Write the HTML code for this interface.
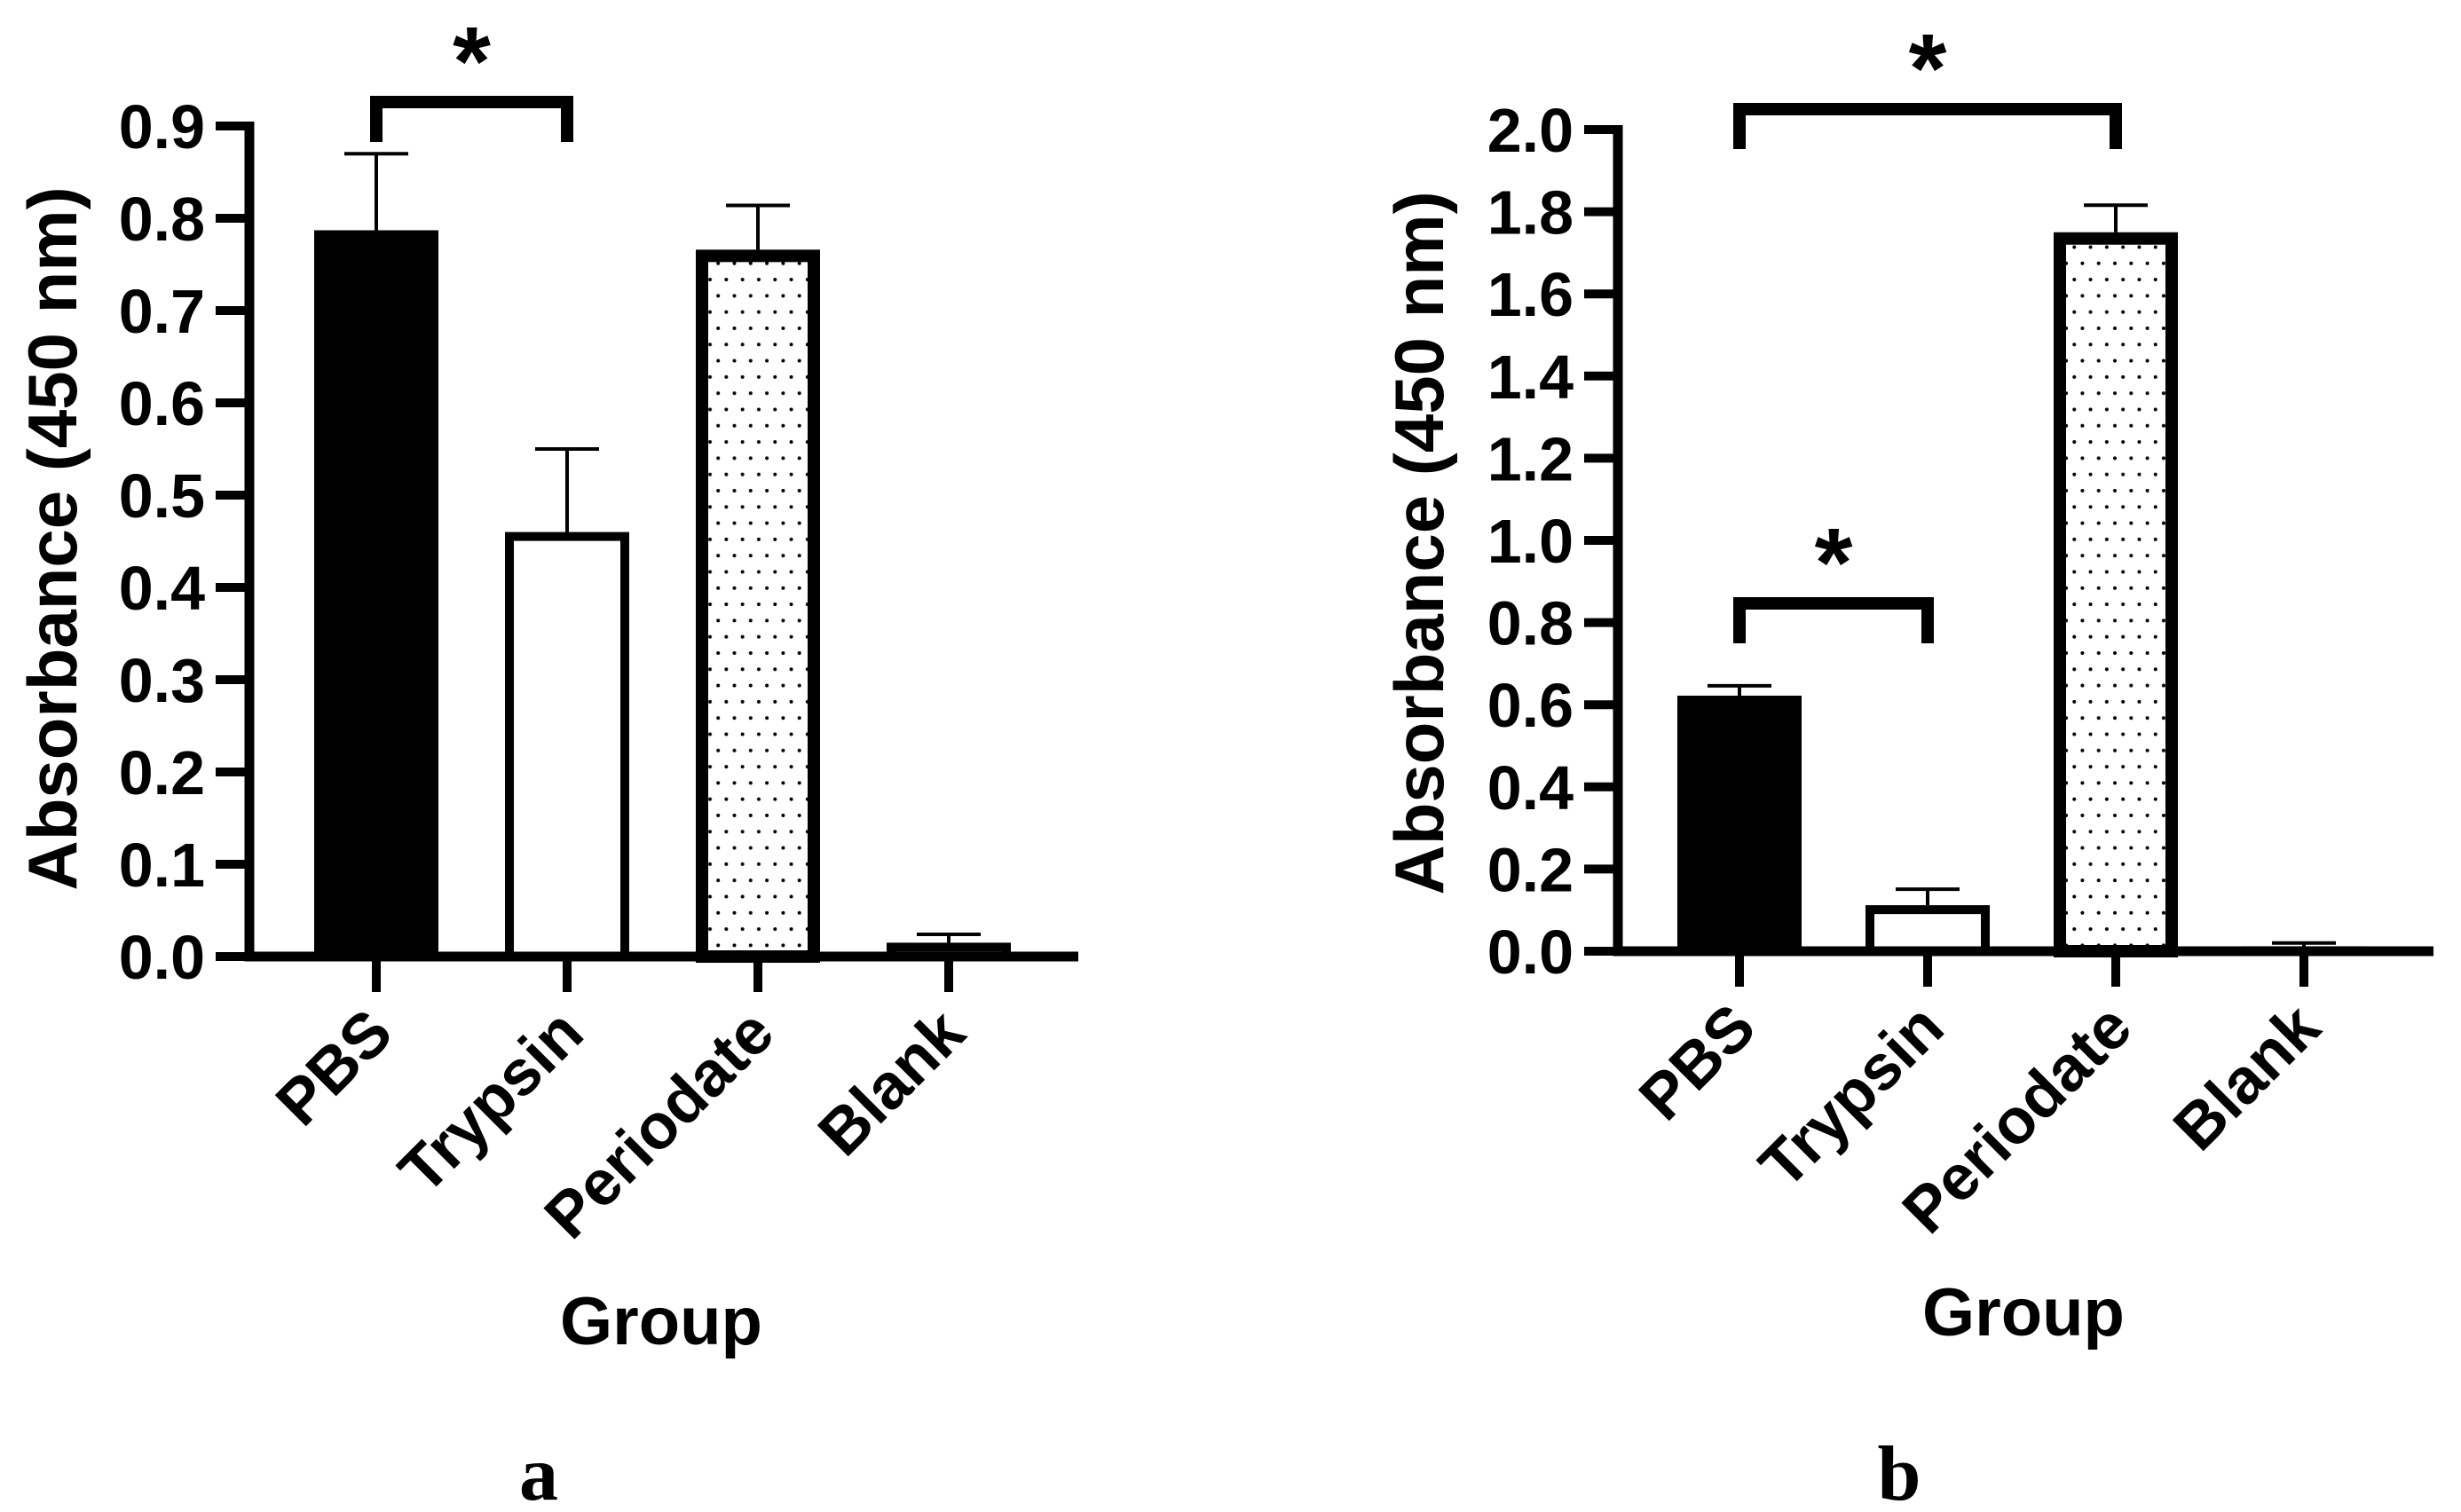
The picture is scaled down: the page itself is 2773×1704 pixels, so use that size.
<!DOCTYPE html>
<html><head><meta charset="utf-8"><style>
html,body{margin:0;padding:0;background:#fff;}
svg{display:block;}
text{font-family:"Liberation Sans",Arial,sans-serif;font-weight:bold;fill:#000;}
</style></head><body>
<svg id="fig" width="2773" height="1704" viewBox="0 0 2773 1704" xmlns="http://www.w3.org/2000/svg">
<defs>
<pattern id="dots" patternUnits="userSpaceOnUse" width="18.3" height="36.6">
<circle cx="4" cy="4" r="2" fill="#000"/>
<circle cx="13.15" cy="22.3" r="2" fill="#000"/>
</pattern>
</defs>
<g id="pa"></g>
<g id="pb"></g>
</svg>
<script>
const categories = ["PBS","Trypsin","Periodate","Blank"];
const valuesA = [0.787, 0.46, 0.766, 0.015];
const errorsA = [0.870, 0.55, 0.814, 0.024];
const ticksA = ["0.0","0.1","0.2","0.3","0.4","0.5","0.6","0.7","0.8","0.9"];
const tickValsA = [0,0.1,0.2,0.3,0.4,0.5,0.6,0.7,0.8,0.9];
const valuesB = [0.622, 0.112, 1.75, 0.012];
const errorsB = [0.646, 0.151, 1.816, 0.02];
const ticksB = ["0.0","0.2","0.4","0.6","0.8","1.0","1.2","1.4","1.6","1.8","2.0"];
const tickValsB = [0,0.2,0.4,0.6,0.8,1.0,1.2,1.4,1.6,1.8,2.0];
const sigA = [[0,1]];
const sigB = [[0,2],[0,1]];

const NS="http://www.w3.org/2000/svg";
function mk(parent,tag,attrs,txt){const e=document.createElementNS(NS,tag);for(const k in attrs)e.setAttribute(k,attrs[k]);if(txt!==undefined)e.textContent=txt;parent.appendChild(e);return e;}

function panel(g,cfg){
  const y=v=>cfg.y0-(v-cfg.vmin)/(cfg.vmax-cfg.vmin)*(cfg.y0-cfg.ytop);
  const x=i=>cfg.cx0+i*cfg.dx;
  const bw=140, sw=[0,10,14,10];
  cfg.values.forEach((v,i)=>{
    const top=y(v), L=x(i)-bw/2;
    if(i===0){
      const r=mk(g,'rect',{x:L,y:top,width:bw,height:cfg.y0-top,fill:'#000'});
      
      
    } else {
      const s=sw[i], h=Math.max(cfg.y0-top-s/2,1);
      const r=mk(g,'rect',{x:L+s/2,y:top+s/2,width:bw-s,height:h,fill:i===2?'url(#dots)':'#fff',stroke:'#000','stroke-width':s});
      
      
    }
    const e=y(cfg.errors[i]);
    const eb=mk(g,'path',{d:`M${x(i)} ${top} V${e} M${x(i)-36} ${e} H${x(i)+36}`,stroke:'#000','stroke-width':4,fill:'none'});
    
    
  });
  const ax=mk(g,'path',{d:`M${cfg.ax} ${cfg.ytop-5} V${cfg.y0} H${cfg.xend}`,stroke:'#000','stroke-width':11,fill:'none'});
  
  
  cfg.tickVals.forEach((v,k)=>{
    const t=mk(g,'line',{x1:cfg.ax-38,x2:cfg.ax,y1:y(v),y2:y(v),stroke:'#000','stroke-width':10});
    
    
    const l=mk(g,'text',{x:cfg.ax-50,y:y(v)+25,'text-anchor':'end','font-size':70},cfg.ticks[k]);
    
    
  });
  categories.forEach((c,i)=>{
    const t=mk(g,'line',{x1:x(i),x2:x(i),y1:cfg.y0,y2:cfg.y0+40,stroke:'#000','stroke-width':10});
    
    
    const lx=x(i)+22, ly=cfg.y0+90;
    const l=mk(g,'text',{x:lx,y:ly,'text-anchor':'end','font-size':72,transform:`rotate(-45 ${lx} ${ly})`},c);
    
    
  });
  const yt=mk(g,'text',{x:cfg.ytx,y:cfg.ytc,'text-anchor':'middle','font-size':78,transform:`rotate(-90 ${cfg.ytx} ${cfg.ytc})`},'Absorbance (450 nm)');
  
  
  const xt=mk(g,'text',{x:cfg.gx,y:cfg.gy,'text-anchor':'middle','font-size':76},'Group');
  
  
  const pl=mk(g,'text',{x:cfg.lx,y:1690,'text-anchor':'middle','font-size':88,style:'font-family:"Liberation Serif",serif'},cfg.letter);
  
  
  cfg.sig.forEach((p,k)=>{
    const yy=cfg.sigY[k], x1=x(p[0]), x2=x(p[1]);
    const br=mk(g,'path',{d:`M${x1} ${yy+45} V${yy} H${x2} V${yy+45}`,stroke:'#000','stroke-width':14,fill:'none'});
    
    
    const st=mk(g,'text',{x:(x1+x2)/2,y:yy-8,'text-anchor':'middle','font-size':110},'*');
    
    
  });
}
panel(document.getElementById('pa'),{values:valuesA,errors:errorsA,ticks:ticksA,tickVals:tickValsA,vmin:0,vmax:0.9,y0:1078,ytop:142,ax:281,xend:1215,cx0:424,dx:215,ytx:86,ytc:607,gx:745,gy:1515,lx:607,letter:'a',sig:sigA,sigY:[115]});
panel(document.getElementById('pb'),{values:valuesB,errors:errorsB,ticks:ticksB,tickVals:tickValsB,vmin:0,vmax:2.0,y0:1072,ytop:146,ax:1823,xend:2742,cx0:1960,dx:212,ytx:1626,ytc:612,gx:2280,gy:1505,lx:2140,letter:'b',sig:sigB,sigY:[123,680]});
</script>
</body></html>
